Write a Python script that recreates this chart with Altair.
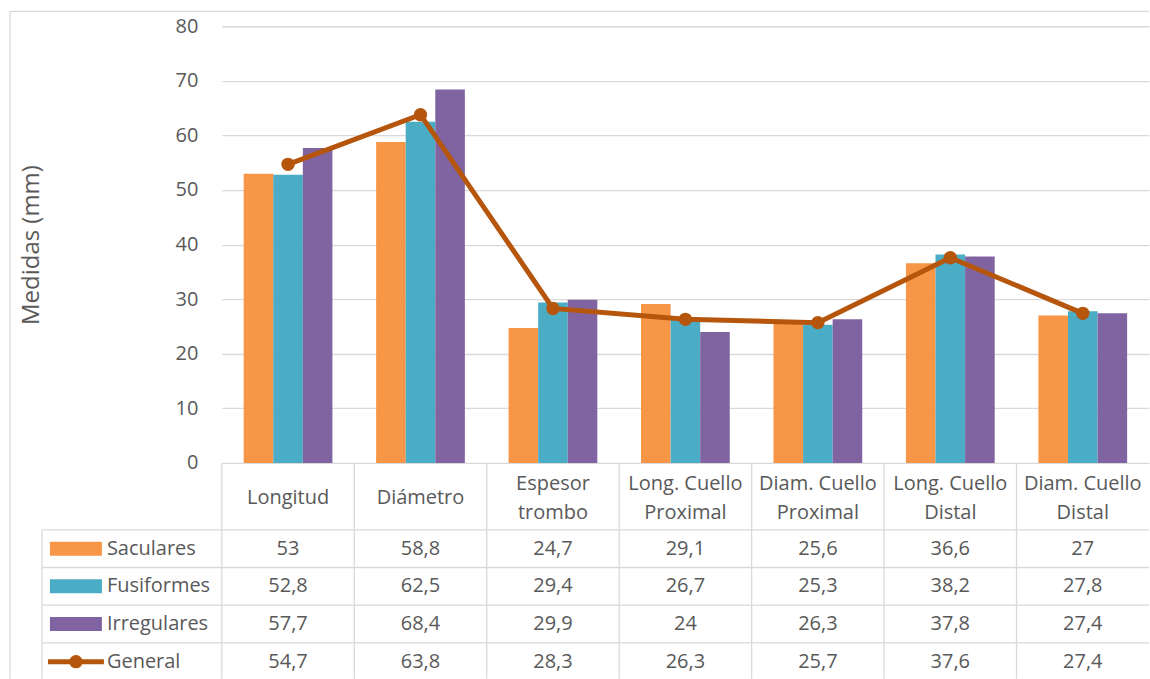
import altair as alt
import pandas as pd

# Categories, shown as one- or two-line headers in the data table
categories = ["Longitud", "Diámetro", "Espesor trombo", "Long. Cuello Proximal",
              "Diam. Cuello Proximal", "Long. Cuello Distal", "Diam. Cuello Distal"]
header_labels = ["Longitud", "Diámetro", "Espesor\ntrombo", "Long. Cuello\nProximal",
                 "Diam. Cuello\nProximal", "Long. Cuello\nDistal", "Diam. Cuello\nDistal"]

series_names = ["Saculares", "Fusiformes", "Irregulares", "General"]
bar_series = ["Saculares", "Fusiformes", "Irregulares"]

saculares = [53, 58.8, 24.7, 29.1, 25.6, 36.6, 27]
fusiformes = [52.8, 62.5, 29.4, 26.7, 25.3, 38.2, 27.8]
irregulares = [57.7, 68.4, 29.9, 24, 26.3, 37.8, 27.4]
general = [54.7, 63.8, 28.3, 26.3, 25.7, 37.6, 27.4]

bar_colors = ["#F79646", "#4BACC6", "#8064A2"]
line_color = "#B5560C"

FONT = "Open Sans"
FS = 20
TEXT = "#595959"
GRID = "#D9D9D9"

W, H_TOP, H_TABLE = 928, 437, 216
ROW_TOP = 67
ROW_H = 37.7
LINE_H = 29
HEAD_Y = ROW_TOP / 2 + 2


def fmt(v):
    return f"{v:g}".replace(".", ",")


values = {"Saculares": saculares, "Fusiformes": fusiformes,
          "Irregulares": irregulares, "General": general}

long_df = pd.DataFrame([
    {"cat": c, "serie": s, "valor": values[s][i], "texto": fmt(values[s][i])}
    for s in series_names for i, c in enumerate(categories)
])
bars_df = long_df[long_df["serie"] != "General"]
gen_df = long_df[long_df["serie"] == "General"]
head_df = pd.DataFrame({"cat": categories, "label": header_labels})
head_one = head_df[~head_df["label"].str.contains("\n")]
head_two = head_df[head_df["label"].str.contains("\n")]
leg_df = pd.DataFrame({"serie": series_names})

color_scale = alt.Scale(domain=bar_series, range=bar_colors)

# ---- plot area: grouped bars plus the "General" line ----
x_top = alt.X("cat:N", sort=categories, axis=None,
              scale=alt.Scale(paddingInner=0.33, paddingOuter=0.165))
y_top = alt.Y("valor:Q", scale=alt.Scale(domain=[0, 80], nice=False),
              axis=alt.Axis(values=list(range(0, 81, 10)), title="Medidas (mm)",
                            grid=True, gridColor=GRID, gridWidth=1.3,
                            domain=False, ticks=False, labelPadding=24,
                            labelFont=FONT, labelFontSize=FS, labelColor=TEXT,
                            titleFont=FONT, titleFontSize=24, titleColor=TEXT,
                            titleFontWeight="normal", titlePadding=132))

bars = alt.Chart(bars_df).mark_bar().encode(
    x=x_top,
    xOffset=alt.XOffset("serie:N", sort=bar_series,
                        scale=alt.Scale(paddingInner=0, paddingOuter=0)),
    y=y_top,
    color=alt.Color("serie:N", scale=color_scale, legend=None),
)
line = alt.Chart(gen_df).mark_line(color=line_color, strokeWidth=5).encode(
    x=x_top, y="valor:Q")
dots = alt.Chart(gen_df).mark_circle(color=line_color, size=180, opacity=1).encode(
    x=x_top, y="valor:Q")
frame_top = alt.Chart(leg_df.head(1)).mark_rule(color=GRID, strokeWidth=1.3).encode(
    x=alt.value(-212), y=alt.value(-15), y2=alt.value(H_TOP))
frame_h = alt.Chart(leg_df.head(1)).mark_rule(color=GRID, strokeWidth=1.3).encode(
    x=alt.value(-212), x2=alt.value(W), y=alt.value(-15))

top = alt.layer(frame_top, frame_h, bars, line, dots).properties(width=W, height=H_TOP)

# ---- data table below the plot ----
band0 = alt.Scale(paddingInner=0, paddingOuter=0)
x_tab = alt.X("cat:N", sort=categories, axis=None, scale=band0)
row_scale = alt.Scale(domain=series_names, range=[ROW_TOP, ROW_TOP + 4 * ROW_H],
                      paddingInner=0, paddingOuter=0)
y_tab = alt.Y("serie:N", sort=series_names, axis=None, scale=row_scale)
y_tab_edge = alt.Y("serie:N", sort=series_names, axis=None, bandPosition=0,
                   scale=row_scale)

rule_style = dict(color=GRID, strokeWidth=1.3)
text_style = dict(font=FONT, fontSize=FS, color=TEXT, baseline="middle")

v_rules = alt.Chart(head_df).mark_rule(**rule_style).encode(
    x=alt.X("cat:N", sort=categories, axis=None, bandPosition=0, scale=band0),
    y=alt.value(0), y2=alt.value(H_TABLE))
h_rules = alt.Chart(leg_df).mark_rule(**rule_style).encode(
    y=y_tab_edge, x=alt.value(-180), x2=alt.value(W))
leg_border = alt.Chart(leg_df.head(1)).mark_rule(**rule_style).encode(
    x=alt.value(-180), y=alt.value(ROW_TOP), y2=alt.value(H_TABLE))
frame_bottom = alt.Chart(leg_df.head(1)).mark_rule(**rule_style).encode(
    x=alt.value(-212), y=alt.value(0), y2=alt.value(H_TABLE))

headers_one = alt.Chart(head_one).mark_text(**text_style).encode(
    x=x_tab, y=alt.value(HEAD_Y), text="label:N")
headers_two = alt.Chart(head_two).mark_text(
    lineBreak="\n", lineHeight=LINE_H, **text_style).encode(
    x=x_tab, y=alt.value(HEAD_Y - LINE_H / 2), text="label:N")
cells = alt.Chart(long_df).mark_text(**text_style).encode(
    x=x_tab, y=y_tab, text="texto:N")

swatches = alt.Chart(leg_df[leg_df["serie"] != "General"]).mark_bar(height=14).encode(
    x=alt.value(-172), x2=alt.value(-120), y=y_tab,
    color=alt.Color("serie:N", scale=color_scale, legend=None))
gen_key = leg_df[leg_df["serie"] == "General"]
key_line = alt.Chart(gen_key).mark_rule(color=line_color, strokeWidth=5).encode(
    x=alt.value(-174), x2=alt.value(-118), y=y_tab)
key_dot = alt.Chart(gen_key).mark_circle(color=line_color, size=180, opacity=1).encode(
    x=alt.value(-146), y=y_tab)
key_text = alt.Chart(leg_df).mark_text(align="left", **text_style).encode(
    x=alt.value(-115), y=y_tab, text="serie:N")

table = alt.layer(frame_bottom, v_rules, h_rules, leg_border, headers_one, headers_two,
                  cells, swatches, key_line, key_dot, key_text
                  ).properties(width=W, height=H_TABLE)

chart = alt.vconcat(top, table, spacing=0, bounds="flush").resolve_scale(
    x="independent", y="independent", color="independent"
).properties(
    padding={"left": 9, "top": 10, "right": 0, "bottom": 0}
).configure_view(stroke=None)

chart.save("out.html", embed_options={"renderer": "svg", "actions": False})
